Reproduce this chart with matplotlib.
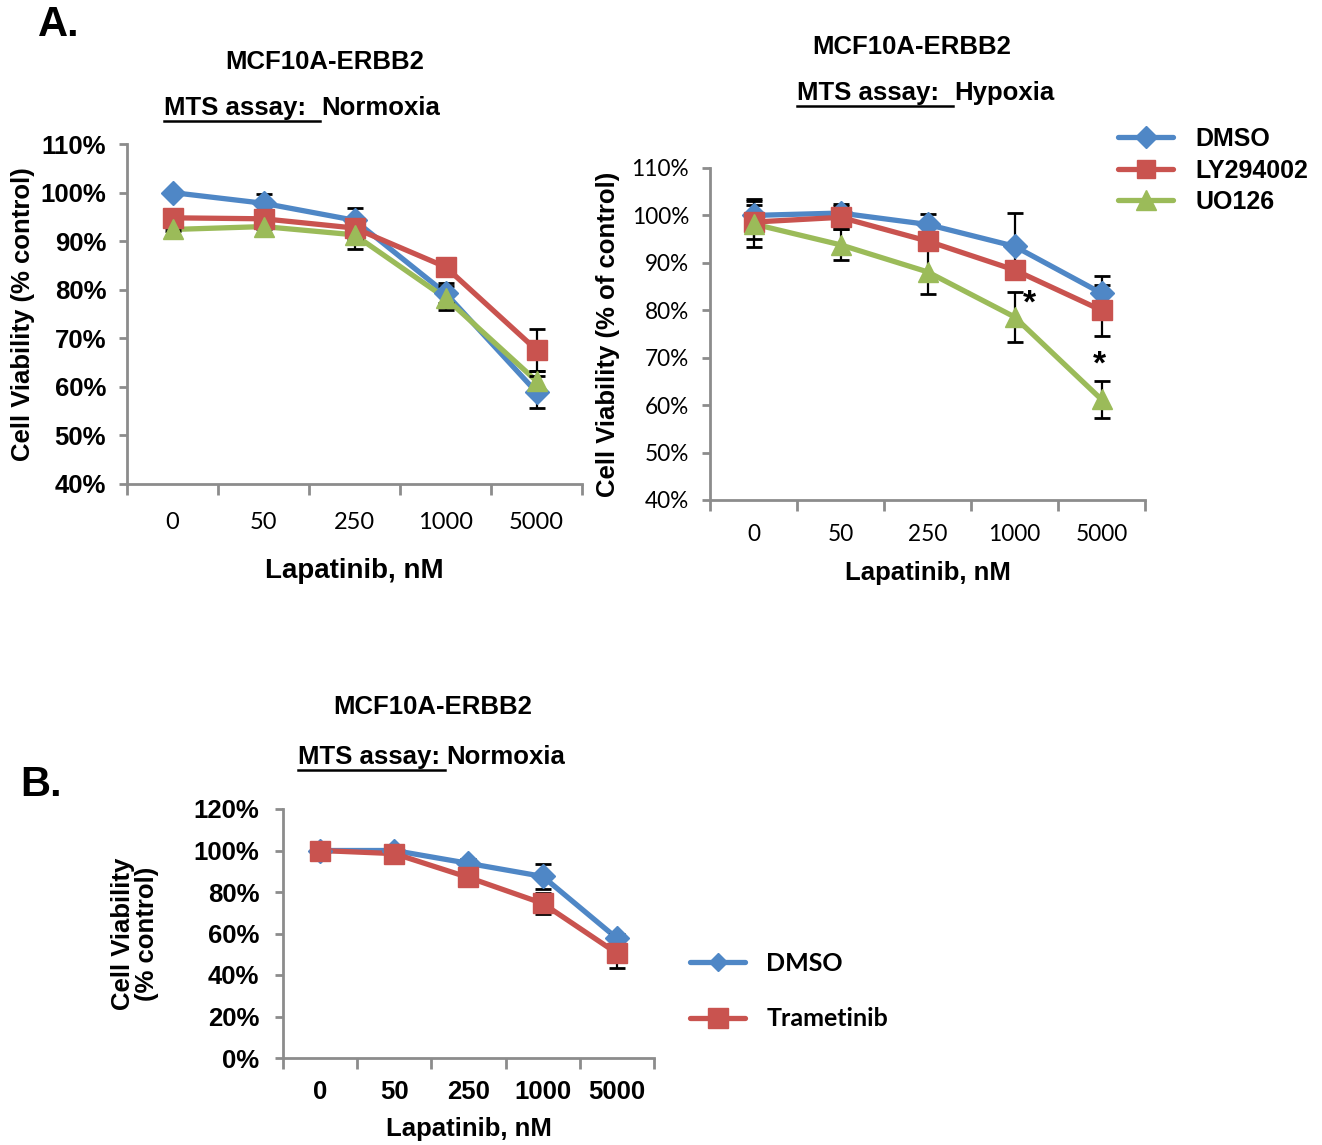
import matplotlib
matplotlib.use("Agg")
import matplotlib.pyplot as plt
from matplotlib.lines import Line2D
from matplotlib.ticker import FuncFormatter, FixedLocator
import numpy as np

plt.rcParams['font.family'] = ['Liberation Sans', 'DejaVu Sans']

doses = ['0', '50', '250', '1000', '5000']

# Panel A, normoxia
dmso_norm = [100, 97.8, 94.3, 79.3, 58.9]
dmso_norm_err = [0.0, 2.0, 2.5, 2.0, 3.3]
ly_norm = [94.8, 94.6, 92.7, 84.7, 67.6]
ly_norm_err = [0.5, 0.8, 2.3, 0.5, 4.3]
uo_norm = [92.4, 93.0, 91.3, 78.3, 61.2]
uo_norm_err = [0.3, 0.5, 3.0, 2.5, 2.0]

# Panel A, hypoxia
dmso_hyp = [100, 100.5, 98.1, 93.5, 83.6]
dmso_hyp_err = [3.4, 2.0, 2.2, 7.0, 3.7]
ly_hyp = [98.6, 99.6, 94.6, 88.5, 80.0]
ly_hyp_err = [3.6, 2.4, 1.5, 1.5, 5.4]
uo_hyp = [98.2, 93.8, 88.1, 78.6, 61.2]
uo_hyp_err = [4.8, 3.3, 4.7, 5.2, 3.9]

# Panel B
dmso_b = [100, 100, 93.8, 87.5, 57.7]
dmso_b_err = [0.5, 0.8, 2.0, 6.0, 2.0]
tram_b = [100, 98.5, 87.0, 74.5, 50.5]
tram_b_err = [0.5, 0.8, 1.5, 5.0, 7.0]

BLUE = '#4F87C6'
RED = '#C9534F'
GREEN = '#9BBB59'
AXC = '#8C8C8C'

W, H = 1322, 1145
fig = plt.figure(figsize=(W / 100, H / 100), dpi=100)


def fx(px):
    return px / W


def fy(py):
    return 1 - py / H


def make_ax(l, r, t, b, ylim, yticks, xfont, yfont):
    ax = fig.add_axes([fx(l), fy(b), fx(r) - fx(l), fy(t) - fy(b)])
    ax.set_xlim(-0.5, 4.5)
    ax.set_ylim(*ylim)
    for s in ['top', 'right']:
        ax.spines[s].set_visible(False)
    for s in ['left', 'bottom']:
        ax.spines[s].set_color(AXC)
        ax.spines[s].set_linewidth(2)
    ax.set_xticks(range(5))
    ax.set_xticklabels(doses)
    ax.xaxis.set_minor_locator(FixedLocator(np.arange(-0.5, 5.0, 1.0)))
    ax.tick_params(axis='x', which='major', length=0)
    ax.tick_params(axis='x', which='minor', length=8, width=2, color=AXC, direction='out')
    ax.set_yticks(yticks)
    ax.yaxis.set_major_formatter(FuncFormatter(lambda v, p: f"{v:.0f}%"))
    ax.tick_params(axis='y', length=6, width=2, color=AXC, direction='out', pad=9)
    for lab in ax.get_xticklabels():
        lab.set(**xfont)
    for lab in ax.get_yticklabels():
        lab.set(**yfont)
    return ax


def draw_series(ax, items):
    for i, (y, e, color, marker, ms) in enumerate(items):
        x = np.arange(len(y))
        ax.plot(x, y, color=color, lw=3.8, zorder=2 + 0.1 * i, clip_on=False,
                solid_capstyle='round')
    for i, (y, e, color, marker, ms) in enumerate(items):
        x = np.arange(len(y))
        ax.errorbar(x, y, yerr=e, fmt='none', ecolor='black', elinewidth=1.6,
                    capsize=6, capthick=2, zorder=3, clip_on=False)
    for i, (y, e, color, marker, ms) in enumerate(items):
        x = np.arange(len(y))
        ax.plot(x, y, ls='none', marker=marker, ms=ms, color=color,
                markeredgecolor=color, zorder=4 + 0.1 * i, clip_on=False)


bold_arial = dict(fontsize=18.5, fontweight='bold', family='Liberation Sans')
lato17 = dict(fontsize=17, fontweight='normal', family='Lato')
lato16 = dict(fontsize=16.3, fontweight='normal', family='Lato')

# ---------- Panel A left ----------
ax1 = make_ax(127, 582, 144, 484, (40, 110), range(40, 111, 10), lato17, bold_arial)
draw_series(ax1, [(dmso_norm, dmso_norm_err, BLUE, 'D', 12),
                  (ly_norm, ly_norm_err, RED, 's', 14),
                  (uo_norm, uo_norm_err, GREEN, '^', 15)])
ax1.tick_params(axis='x', which='major', pad=20)
ax1.set_ylabel('Cell Viability (% control)', fontsize=18.5, fontweight='bold', labelpad=4)
ax1.set_xlabel('Lapatinib, nM', fontsize=20, fontweight='bold', labelpad=18)

# ---------- Panel A right ----------
ax2 = make_ax(710, 1145, 168, 500, (40, 110), range(40, 111, 10), lato16, lato16)
draw_series(ax2, [(dmso_hyp, dmso_hyp_err, BLUE, 'D', 12),
                  (ly_hyp, ly_hyp_err, RED, 's', 14),
                  (uo_hyp, uo_hyp_err, GREEN, '^', 15)])
ax2.tick_params(axis='x', which='major', pad=17)
ax2.set_ylabel('Cell Viability (% of control)', fontsize=18.5, fontweight='bold', labelpad=8)
ax2.set_xlabel('Lapatinib, nM', fontsize=18.5, fontweight='bold', labelpad=12)
ax2.text(3.17, uo_hyp[3] + uo_hyp_err[3] - 2.5, '*', fontsize=24, fontweight='bold',
         ha='center', va='center')
ax2.text(3.98, uo_hyp[4] + uo_hyp_err[4] + 3.3, '*', fontsize=24, fontweight='bold',
         ha='center', va='center')

h_a = [Line2D([], [], color=BLUE, lw=3.8, marker='D', ms=11, solid_capstyle='round'),
       Line2D([], [], color=RED, lw=3.8, marker='s', ms=13, solid_capstyle='round'),
       Line2D([], [], color=GREEN, lw=3.8, marker='^', ms=14, solid_capstyle='round')]
fig.legend(h_a, ['DMSO', 'LY294002', 'UO126'], loc='upper left',
           bbox_to_anchor=(fx(1108), fy(117)), frameon=False,
           prop={'size': 18, 'weight': 'bold'}, handlelength=2.2,
           labelspacing=0.3, handletextpad=0.9, borderaxespad=0)

# ---------- Panel B ----------
ax3 = make_ax(283, 654, 809, 1058, (0, 120), range(0, 121, 20), bold_arial, bold_arial)
draw_series(ax3, [(dmso_b, dmso_b_err, BLUE, 'D', 12),
                  (tram_b, tram_b_err, RED, 's', 15)])
ax3.tick_params(axis='x', which='major', pad=16)
ax3.tick_params(axis='y', pad=11)
ax3.set_ylabel('Cell Viability\n(% control)', fontsize=18.5, fontweight='bold', labelpad=25,
               linespacing=1.0)
ax3.set_xlabel('Lapatinib, nM', fontsize=18.5, fontweight='bold', labelpad=9)

h_b = [Line2D([], [], color=BLUE, lw=3.8, marker='D', ms=9, solid_capstyle='round'),
       Line2D([], [], color=RED, lw=3.8, marker='s', ms=14, solid_capstyle='round')]
fig.legend(h_b, ['DMSO', 'Trametinib'], loc='upper left',
           bbox_to_anchor=(fx(680), fy(942)), frameon=False,
           prop={'size': 18, 'weight': 'bold', 'family': 'Lato'}, handlelength=2.2,
           labelspacing=1.3, handletextpad=0.85, borderaxespad=0)


# ---------- titles ----------
def title_block(cx_top, y_top, x_ul0, x_ul1, y_sub, rest, fs):
    fig.text(fx(cx_top), fy(y_top), 'MCF10A-ERBB2', fontsize=fs, fontweight='bold',
             ha='center', va='center')
    fig.text(fx(x_ul0), fy(y_sub), 'MTS assay:', fontsize=fs, fontweight='bold',
             ha='left', va='center')
    fig.text(fx(x_ul1 + 1), fy(y_sub), rest, fontsize=fs, fontweight='bold',
             ha='left', va='center')
    fig.add_artist(Line2D([fx(x_ul0), fx(x_ul1)], [fy(y_sub + 13), fy(y_sub + 13)],
                          color='black', lw=1.8, transform=fig.transFigure))


title_block(325, 62, 164, 320, 108, 'Normoxia', 18.5)
title_block(912, 47, 797, 953, 93, 'Hypoxia', 18.5)
title_block(433, 707, 298, 445, 757, 'Normoxia', 18.5)

fig.text(fx(38), fy(25), 'A.', fontsize=30, fontweight='bold', ha='left', va='center')
fig.text(fx(20), fy(785), 'B.', fontsize=30, fontweight='bold', ha='left', va='center')

fig.savefig('out.png', dpi=100, facecolor='white')
